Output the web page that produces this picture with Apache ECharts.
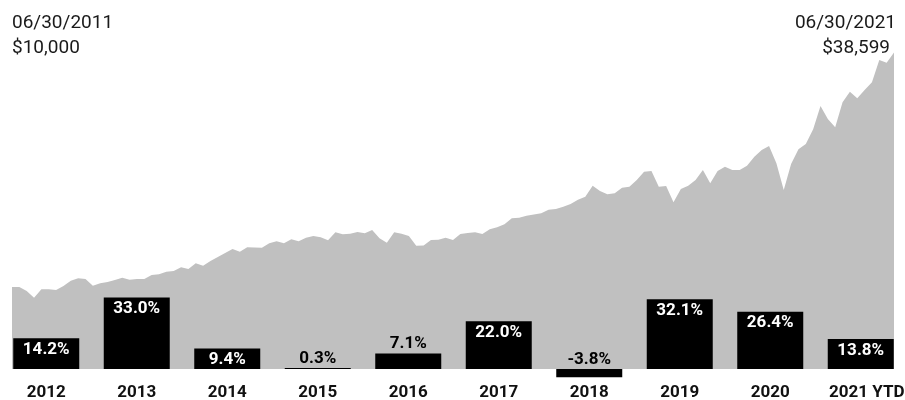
<!DOCTYPE html>
<html>
<head>
<meta charset="utf-8">
<script src="https://cdn.jsdelivr.net/npm/echarts@6/dist/echarts.min.js"></script>
<style>
  html, body { margin: 0; padding: 0; background: #fff; }
  #chart { width: 905px; height: 400px; }
</style>
</head>
<body>
<div id="chart"></div>
<script>
// growth of $10,000, monthly, 06/2011 - 06/2021
const growthValues = [
  10000, 9990, 9510, 8700, 9720, 9720, 9630, 10120, 10770, 11060,
  10980, 10160, 10450, 10610, 10850, 11130, 10890, 10980, 10990, 11460,
  11550, 11870, 11950, 12400, 12200, 12890, 12600, 13170, 13660, 14150,
  14630, 14300, 14840, 14820, 14790, 15330, 15570, 15330, 15820, 15570,
  16010, 16220, 16060, 15700, 16670, 16430, 16500, 16710, 16550, 16950,
  15940, 15400, 16670, 16500, 16220, 15040, 15050, 15730, 15770, 16010,
  15730, 16460, 16590, 16670, 16460, 17040, 17280, 17650, 18380, 18450,
  18700, 18840, 18990, 19430, 19510, 19790, 20120, 20650, 21010, 22350,
  21710, 21300, 21430, 22110, 22230, 23050, 24060, 24150, 22230, 22320,
  20330, 21950, 22350, 23050, 24270, 22650, 24150, 24670, 24270, 24270,
  24790, 25890, 26710, 27200, 25090, 21830, 25000, 26790, 27440, 29230,
  32070, 30490, 29480, 32520, 33820, 33010, 34020, 34960, 37680, 37350,
  38599
];

const growthMonths = growthValues.map((_, i) => {
  const m = (5 + i) % 12 + 1;
  const y = 2011 + Math.floor((5 + i) / 12);
  return (m < 10 ? "0" : "") + m + "/" + y;
});

const years = ["2012", "2013", "2014", "2015", "2016", "2017", "2018", "2019", "2020", "2021 YTD"];
const yearReturns = [14.2, 33.0, 9.4, 0.3, 7.1, 22.0, -3.8, 32.1, 26.4, 13.8];

const startLabel = ["06/30/2011", "$10,000"];
const endLabel = ["06/30/2021", "$38,599"];

const FONT = "Roboto";

const chart = echarts.init(document.getElementById("chart"));

const barData = yearReturns.map((v) => {
  const small = Math.abs(v) < 8;
  return {
    value: v,
    label: {
      position: small ? "top" : "insideTop",
      distance: small ? 1 : 3,
      color: small ? "#000000" : "#ffffff",
    },
  };
});

const headerText = (text, pos) => ({
  text,
  ...pos,
  padding: 0,
  textStyle: { fontFamily: FONT, fontSize: 19, fontWeight: "normal", color: "#1a1a1a" },
});

const options = {
  animation: false,
  title: [
    headerText(startLabel[0], { left: 12, top: 14 }),
    headerText(startLabel[1], { left: 12, top: 39 }),
    headerText(endLabel[0], { right: 9, top: 14 }),
    headerText(endLabel[1], { right: 15, top: 39 }),
  ],
  grid: [
    { left: 12, right: 11, top: 41, bottom: 31, outerBoundsMode: "none" },
    { left: 1, right: -1, top: 282.2, bottom: 31, outerBoundsMode: "none" },
  ],
  xAxis: [
    {
      gridIndex: 0,
      type: "category",
      data: growthMonths,
      boundaryGap: false,
      show: false,
    },
    {
      gridIndex: 1,
      type: "category",
      data: years,
      axisLine: { show: false, onZero: false },
      axisTick: { show: false },
      axisLabel: {
        margin: 15,
        interval: 0,
        fontFamily: FONT,
        fontSize: 17,
        fontWeight: "bold",
        color: "#111111",
        formatter: (v) => (v === "2021 YTD" ? "{ytd|" + v + "}" : v),
        rich: {
          ytd: {
            fontFamily: FONT,
            fontSize: 17,
            fontWeight: "bold",
            color: "#111111",
            padding: [0, 0, 0, 12],
          },
        },
      },
    },
  ],
  yAxis: [
    { gridIndex: 0, type: "value", min: 0, max: 40000, show: false },
    { gridIndex: 1, type: "value", min: 0, max: 40, show: false },
  ],
  series: [
    {
      name: "Growth",
      type: "line",
      xAxisIndex: 0,
      yAxisIndex: 0,
      data: growthValues,
      symbol: "none",
      lineStyle: { width: 0 },
      areaStyle: { color: "#c0c0c0", opacity: 1 },
      z: 1,
    },
    {
      name: "Annual return",
      type: "bar",
      xAxisIndex: 1,
      yAxisIndex: 1,
      data: barData,
      barWidth: 66,
      barMinHeight: 1,
      clip: false,
      itemStyle: { color: "#000000" },
      label: {
        show: true,
        fontFamily: FONT,
        fontSize: 17,
        fontWeight: "bold",
        formatter: (p) => p.value.toFixed(1) + "%",
      },
      z: 5,
    },
  ],
};

chart.setOption(options);
</script>
</body>
</html>
